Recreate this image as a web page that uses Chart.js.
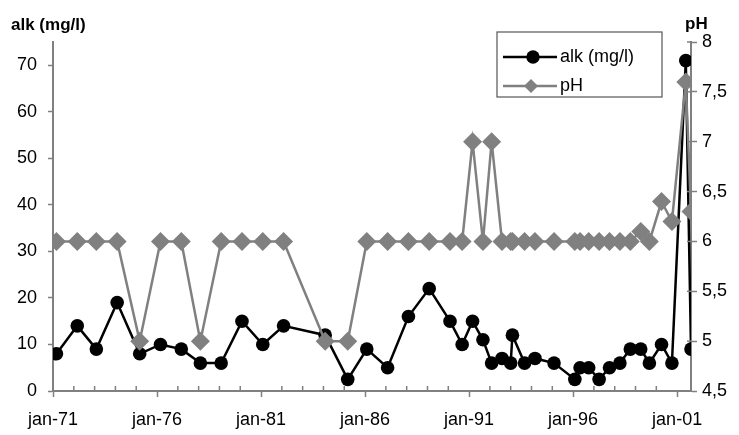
<!DOCTYPE html>
<html>
<head>
<meta charset="utf-8">
<script src="https://cdn.jsdelivr.net/npm/chart.js@4.4.1/dist/chart.umd.min.js"></script>
<style>
  body { margin: 0; background: #fff; }
  canvas { display: block; }
</style>
</head>
<body>
<canvas id="chart" width="739" height="435"></canvas>
<script>
  // sampling dates (year-month)
  const sampleDates = [
    "1971-03", "1972-03", "1973-02", "1974-02", "1975-03", "1976-03", "1977-03", "1978-02",
    "1979-02", "1980-02", "1981-02", "1982-02", "1984-02", "1985-03", "1986-02", "1987-02",
    "1988-02", "1989-02", "1990-02", "1990-09", "1991-03", "1991-09", "1992-02", "1992-08",
    "1993-01", "1993-02", "1993-09", "1994-03", "1995-02", "1996-02", "1996-05", "1996-10",
    "1997-04", "1997-10", "1998-04", "1998-10", "1999-04", "1999-09", "2000-04", "2000-10",
    "2001-06", "2001-09"
  ];
  const alkValues = [
    8, 14, 9, 19, 8, 10, 9, 6,
    6, 15, 10, 14, 12, 2.5, 9, 5,
    16, 22, 15, 10, 15, 11, 6, 7,
    6, 12, 6, 7, 6, 2.5, 5, 5,
    2.5, 5, 6, 9, 9, 6, 10, 6,
    71, 9
  ];
  const phValues = [
    6, 6, 6, 6, 5, 6, 6, 5,
    6, 6, 6, 6, 5, 5, 6, 6,
    6, 6, 6, 6, 7, 6, 7, 6,
    6, 6, 6, 6, 6, 6, 6, 6,
    6, 6, 6, 6, 6.1, 6, 6.4, 6.2,
    7.6, 6.3
  ];
  const labelYears = [1971, 1976, 1981, 1986, 1991, 1996, 2001];
  const xTickLabels = ["jan-71", "jan-76", "jan-81", "jan-86", "jan-91", "jan-96", "jan-01"];
  const alkTicks = [0, 10, 20, 30, 40, 50, 60, 70];

  const FONT = "'Liberation Sans', Arial, sans-serif";
  const AXIS_GREY = '#808080';

  function toYear(s) {
    const [y, m] = s.split('-').map(Number);
    return y + (m - 1) / 12;
  }
  const xs = sampleDates.map(toYear);

  const extras = {
    id: 'extras',
    afterDraw(chart) {
      const ctx = chart.ctx;
      const x = chart.scales.x, yR = chart.scales.yR;
      ctx.save();
      // minor year ticks point up into the plot
      ctx.strokeStyle = AXIS_GREY;
      ctx.lineWidth = 1.5;
      x.ticks.forEach(t => {
        if (labelYears.includes(t.value)) return;
        const px = x.getPixelForValue(t.value);
        ctx.beginPath(); ctx.moveTo(px, x.top); ctx.lineTo(px, x.top - 5); ctx.stroke();
      });
      // right axis ticks cross the line
      yR.ticks.forEach(t => {
        const py = yR.getPixelForValue(t.value);
        ctx.beginPath(); ctx.moveTo(yR.left - 4, py); ctx.lineTo(yR.left, py); ctx.stroke();
      });

      // axis titles
      ctx.fillStyle = '#000';
      ctx.font = 'bold 17px ' + FONT;
      ctx.textAlign = 'left';
      ctx.textBaseline = 'alphabetic';
      ctx.fillText('alk (mg/l)', 11, 30);
      ctx.fillText('pH', 685, 29);

      // legend box
      ctx.fillStyle = '#fff';
      ctx.fillRect(497, 32, 165, 65);
      ctx.strokeStyle = '#555';
      ctx.lineWidth = 1.2;
      ctx.strokeRect(497, 32, 165, 65);

      ctx.lineWidth = 2.5;
      ctx.strokeStyle = '#000';
      ctx.beginPath(); ctx.moveTo(503, 57); ctx.lineTo(557, 57); ctx.stroke();
      ctx.fillStyle = '#000';
      ctx.beginPath(); ctx.arc(533, 57, 6.7, 0, Math.PI * 2); ctx.fill();

      ctx.strokeStyle = AXIS_GREY;
      ctx.beginPath(); ctx.moveTo(503, 86); ctx.lineTo(557, 86); ctx.stroke();
      ctx.fillStyle = AXIS_GREY;
      ctx.beginPath();
      ctx.moveTo(531, 79); ctx.lineTo(538, 86); ctx.lineTo(531, 93); ctx.lineTo(524, 86);
      ctx.closePath(); ctx.fill();

      ctx.fillStyle = '#000';
      ctx.font = '18px ' + FONT;
      ctx.textBaseline = 'middle';
      ctx.fillText('alk (mg/l)', 560, 57);
      ctx.fillText('pH', 560, 86);
      ctx.restore();
    }
  };

  new Chart(document.getElementById('chart'), {
    type: 'line',
    data: {
      datasets: [
        {
          label: 'alk (mg/l)',
          data: xs.map((x, i) => ({ x, y: alkValues[i] })),
          yAxisID: 'yL',
          borderColor: '#000',
          backgroundColor: '#000',
          borderWidth: 2.5,
          pointStyle: 'circle',
          pointRadius: 6.8,
          pointBorderWidth: 0,
          order: 2
        },
        {
          label: 'pH',
          data: xs.map((x, i) => ({ x, y: phValues[i] })),
          yAxisID: 'yR',
          borderColor: AXIS_GREY,
          backgroundColor: AXIS_GREY,
          borderWidth: 2.5,
          pointStyle: 'rectRot',
          pointRadius: 9.5,
          pointBorderWidth: 0,
          order: 1
        }
      ]
    },
    options: {
      responsive: false,
      animation: false,
      layout: { padding: { top: 42, left: 0, right: 0, bottom: 0 } },
      plugins: { legend: { display: false }, tooltip: { enabled: false } },
      scales: {
        x: {
          type: 'linear',
          min: 1971,
          max: xs[xs.length - 1],
          afterBuildTicks: scale => {
            const t = [];
            for (let y = 1971; y <= 2001; y++) t.push({ value: y });
            scale.ticks = t;
          },
          afterFit: scale => { scale.height = 44; },
          ticks: {
            autoSkip: false,
            maxRotation: 0,
            padding: 12,
            color: '#000',
            font: { family: FONT, size: 18 },
            callback: v => {
              const i = labelYears.indexOf(v);
              return i >= 0 ? xTickLabels[i] : '';
            }
          },
          grid: {
            drawOnChartArea: false,
            tickLength: 6,
            tickWidth: 1.5,
            tickColor: c => (c.tick && labelYears.includes(c.tick.value)) ? AXIS_GREY : 'rgba(0,0,0,0)'
          },
          border: { color: AXIS_GREY, width: 2 }
        },
        yL: {
          position: 'left',
          min: 0,
          max: 75,
          afterBuildTicks: scale => { scale.ticks = alkTicks.map(v => ({ value: v })); },
          afterFit: scale => { scale.width = 53; },
          ticks: { color: '#000', padding: 11, font: { family: FONT, size: 18 } },
          grid: { drawOnChartArea: false, tickLength: 5, tickWidth: 1.5, tickColor: AXIS_GREY },
          border: { color: AXIS_GREY, width: 2 }
        },
        yR: {
          position: 'right',
          min: 4.5,
          max: 8,
          ticks: {
            stepSize: 0.5,
            color: '#000',
            padding: 5,
            font: { family: FONT, size: 18 },
            callback: v => String(v).replace('.', ',')
          },
          afterFit: scale => { scale.width = 48; },
          grid: { drawOnChartArea: false, tickLength: 6, tickWidth: 1.5, tickColor: AXIS_GREY },
          border: { color: AXIS_GREY, width: 2 }
        }
      }
    },
    plugins: [extras]
  });
</script>
</body>
</html>
